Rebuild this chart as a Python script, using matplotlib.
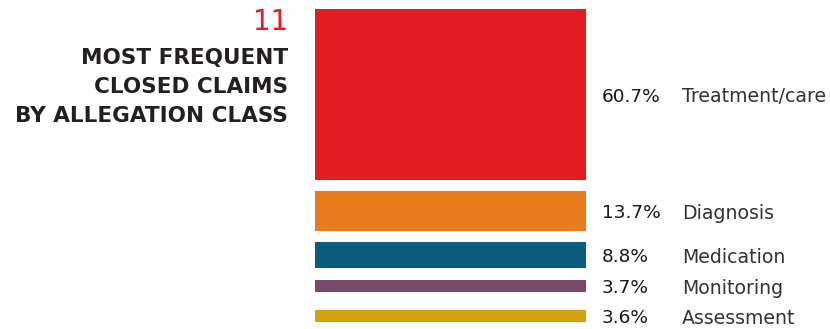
import numpy as np
import matplotlib
matplotlib.use("Agg")
import matplotlib.pyplot as plt

plt.rcParams['font.family'] = ['DejaVu Sans']

# Data
categories = ["Treatment/care", "Diagnosis", "Medication", "Monitoring", "Assessment"]
shares = [60.7, 13.7, 8.8, 3.7, 3.6]
colors = ["#E41B23", "#E77C1E", "#0B5C7B", "#774A6B", "#D4A00C"]
chart_number = "11"
title_lines = ["MOST FREQUENT", "CLOSED CLAIMS", "BY ALLEGATION CLASS"]

# Layout (pixel space)
W, H = 830, 329
top = 9
gaps = [11, 11, 12, 18]
px_per_pct, min_px = 2.80, 1.5
bar_x, bar_w = 315, 271
dark = "#231F20"

fig = plt.figure(figsize=(W / 100, H / 100), dpi=100)
ax = fig.add_axes([0, 0, 1, 1])
ax.set_xlim(0, W)
ax.set_ylim(H, 0)
ax.axis("off")

heights = np.array(shares) * px_per_pct + min_px
bottoms = top + np.concatenate([[0], np.cumsum(heights[:-1] + np.array(gaps))])

ax.barh(bottoms, [bar_w] * len(shares), height=heights, left=bar_x,
        color=colors, align="edge")

for b, h, v, name in zip(bottoms, heights, shares, categories):
    yc = b + h / 2
    ax.text(602, yc, f"{v:.1f}%", fontsize=13.3, color="#1A1718",
            va="center_baseline", ha="left")
    ax.text(682, yc, name, fontsize=13.6, color="#333333",
            va="center_baseline", ha="left")

# Title block
ax.text(288, 22, chart_number, fontsize=20, color="#E41B23",
        ha="right", va="center")
for i, line in enumerate(title_lines):
    ax.text(288, 58 + i * 29, line, fontsize=15.5, fontweight="bold",
            color=dark, ha="right", va="center")

fig.savefig("out.png", dpi=100)
